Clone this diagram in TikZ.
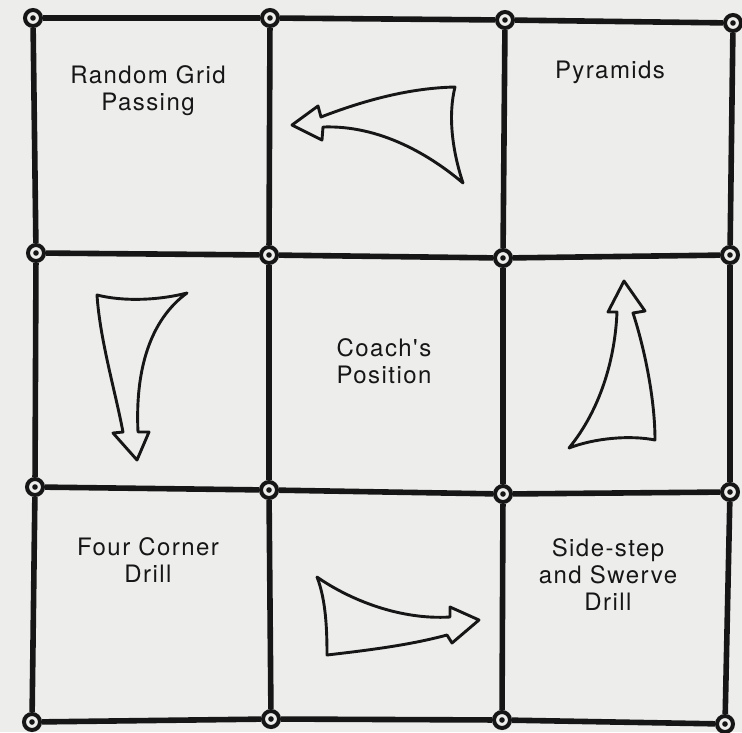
\documentclass[tikz,border=0pt]{standalone}
\usepackage{fontspec}
\newfontfamily\gridfont[LetterSpace=6]{TeX Gyre Heros}
\definecolor{paper}{RGB}{237,237,236}
\definecolor{ink}{RGB}{22,22,22}
\begin{document}
\begin{tikzpicture}[x=1pt, y=-1pt, >=stealth,
  post/.style={circle, draw=ink, line width=4pt, fill=paper, minimum size=16pt, inner sep=0pt,
    path picture={\fill[ink] (path picture bounding box.center) circle (2.8pt);}},
  field/.style={draw=ink, line width=5.6pt},
  drillname/.style={align=center, text=ink, font=\gridfont\fontsize{24}{27}\selectfont},
  sweep/.style={draw=ink, line width=2.9pt, fill=paper, line join=round}]
  \useasboundingbox (0,0) rectangle (742,732);
  \fill[paper] (0,0) rectangle (742,732);
  % posts at the grid corners
  \foreach \n/\x/\y in {0-0/33/18, 0-1/270/18, 0-2/505/20, 0-3/733/23,
                        1-0/36/253, 1-1/269/255, 1-2/503/258, 1-3/730/255,
                        2-0/35/487, 2-1/269/490, 2-2/503/494, 2-3/730/492,
                        3-0/32/722, 3-1/271/719, 3-2/502/720, 3-3/725/724}
    \node[post] (p-\n) at (\x,\y) {};
  \foreach \r in {0,...,3}
    \foreach \c [count=\d] in {0,1,2}
      \draw[field] (p-\r-\c) -- (p-\r-\d);
  \foreach \c in {0,...,3}
    \foreach \r [count=\s] in {0,1,2}
      \draw[field] (p-\r-\c) -- (p-\s-\c);
  % drill names
  \node[drillname] (random) at (148,91) {Random Grid\\Passing};
  \node[drillname] (pyramids) at (610,72) {Pyramids};
  \node[drillname] (coach) at (384,361) {Coach's\\Position};
  \node[drillname] (corner) at (148,560) {Four Corner\\Drill};
  \node[drillname] (swerve) at (608,575) {Side-step\\and Swerve\\Drill};
  % rotation arrows
  \draw[sweep] (321,117) .. controls (365,100) and (410,88) .. (455,87)
    .. controls (448,115) and (452,150) .. (463,183)
    .. controls (430,155) and (380,125) .. (323,127)
    -- (322,140) -- (292,125) -- (318,106) -- cycle;
  \draw[sweep] (97,295) .. controls (125,302) and (160,300) .. (187,293)
    .. controls (150,320) and (135,370) .. (138,432)
    -- (149,432) -- (137,460) -- (113,433) -- (123,432)
    .. controls (115,390) and (100,340) .. cycle;
  \draw[sweep] (617,312) -- (608,312) -- (624,281) -- (645,311) -- (633,313)
    .. controls (645,350) and (655,400) .. (655,440)
    .. controls (630,435) and (595,438) .. (569,448)
    .. controls (600,410) and (615,360) .. cycle;
  \draw[sweep] (317,577) .. controls (350,600) and (400,620) .. (450,617)
    -- (450,607) -- (479,620) -- (452,643) -- (447,635)
    .. controls (410,645) and (370,650) .. (327,655)
    .. controls (327,630) and (326,600) .. cycle;
\end{tikzpicture}
\end{document}
